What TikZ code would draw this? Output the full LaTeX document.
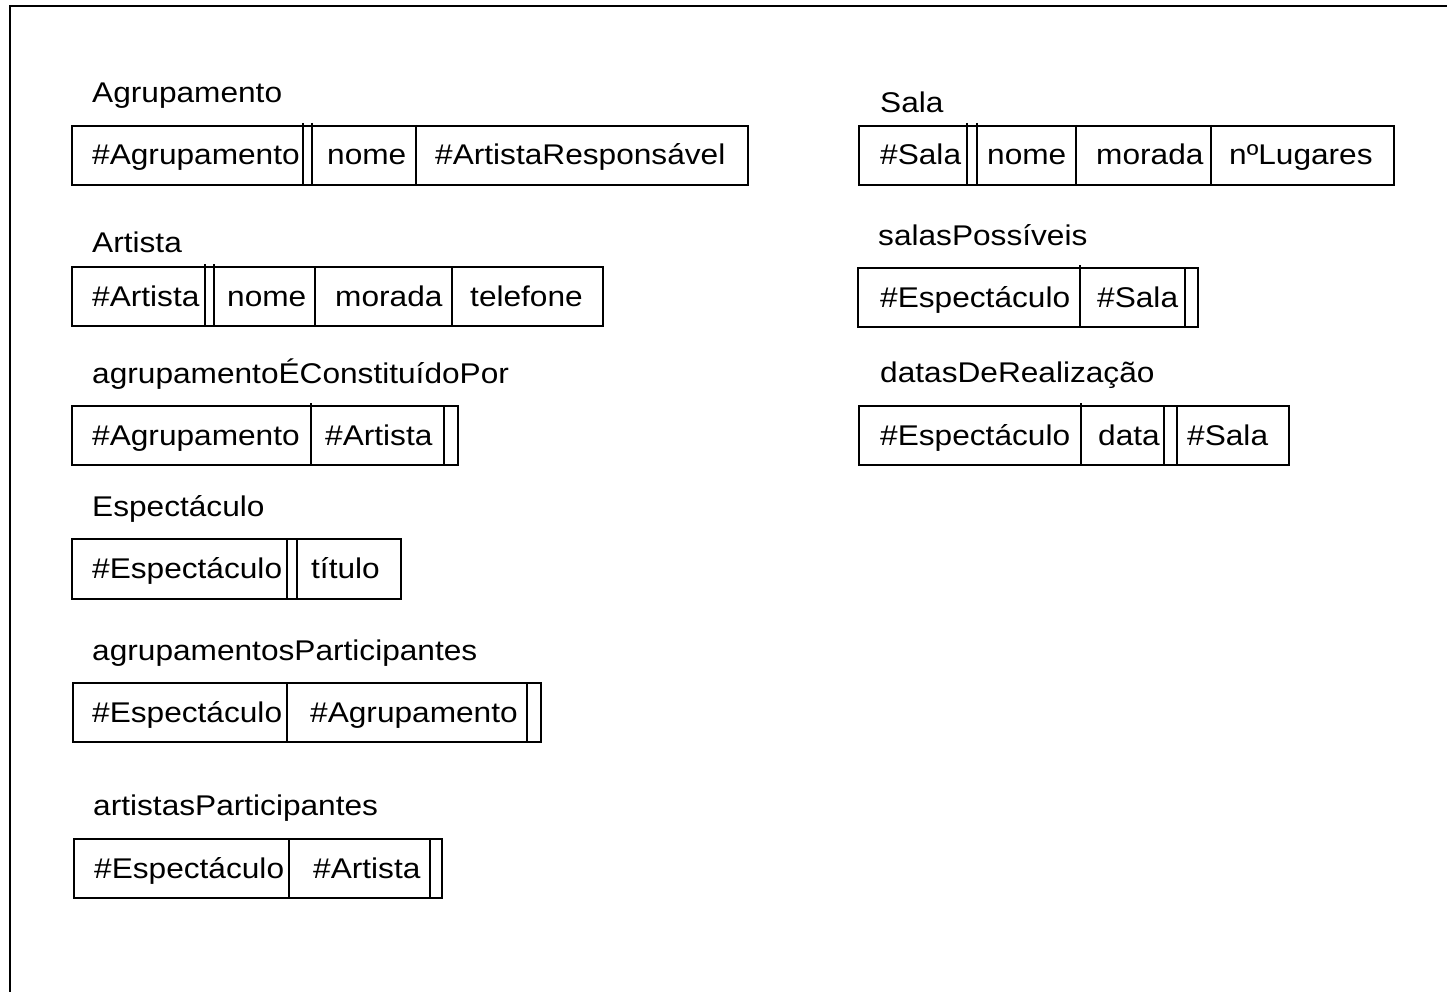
\documentclass[tikz,border=0pt]{standalone}
\usepackage{fontspec}
\setmainfont[FakeStretch=1.11]{Liberation Sans}
\newcommand\cellfont{\fontsize{28.5}{34}\selectfont}
\begin{document}
\begin{tikzpicture}[x=1pt,y=-1pt,
  tline/.style={line width=1.6pt},
  tbl/.style={draw, line width=1.6pt, rectangle, inner sep=0pt, anchor=north west},
  txt/.style={anchor=base west, inner sep=0pt, font=\cellfont},
]
\useasboundingbox (0,0) rectangle (1447,992);
\draw[line width=1.8pt] (10,992) -- (10,6) -- (1447,6);

% Agrupamento
\node[txt] (lAgr) at (92,103) {Agrupamento};
\node[tbl, minimum width=676pt, minimum height=59pt] (tAgr) at (71,125) {};
\draw[tline] (303,123) -- (303,186) (312,123) -- (312,186) (416,125) -- (416,186);
\node[txt] (agr1) at (92,165) {\#Agrupamento};
\node[txt] (agr2) at (327,165) {nome};
\node[txt] (agr3) at (435,165) {\#ArtistaResponsável};

% Artista
\node[txt] (lArt) at (92,253) {Artista};
\node[tbl, minimum width=531pt, minimum height=59pt] (tArt) at (71,266) {};
\draw[tline] (205,264) -- (205,327) (214,264) -- (214,327) (315,266) -- (315,327) (452,266) -- (452,327);
\node[txt] (art1) at (92,306) {\#Artista};
\node[txt] (art2) at (227,306) {nome};
\node[txt] (art3) at (335,306) {morada};
\node[txt] (art4) at (470,306) {telefone};

% agrupamentoEConstituidoPor
\node[txt] (lAec) at (92,383) {agrupamentoÉConstituídoPor};
\node[tbl, minimum width=386pt, minimum height=59pt] (tAec) at (71,405) {};
\draw[tline] (311,403) -- (311,464) (444,405) -- (444,466);
\node[txt] (aec1) at (92,445) {\#Agrupamento};
\node[txt] (aec2) at (325,445) {\#Artista};

% Espectaculo
\node[txt] (lEsp) at (92,516) {Espectáculo};
\node[tbl, minimum width=329pt, minimum height=60pt] (tEsp) at (71,538) {};
\draw[tline] (287,538) -- (287,600) (297,538) -- (297,600);
\node[txt] (esp1) at (92,578) {\#Espectáculo};
\node[txt] (esp2) at (311,578) {título};

% agrupamentosParticipantes
\node[txt] (lAgp) at (92,660) {agrupamentosParticipantes};
\node[tbl, minimum width=468pt, minimum height=59pt] (tAgp) at (72,682) {};
\draw[tline] (287,682) -- (287,743) (527,682) -- (527,743);
\node[txt] (agp1) at (92,722) {\#Espectáculo};
\node[txt] (agp2) at (310,722) {\#Agrupamento};

% artistasParticipantes
\node[txt] (lArp) at (93,815) {artistasParticipantes};
\node[tbl, minimum width=368pt, minimum height=59pt] (tArp) at (73,838) {};
\draw[tline] (289,838) -- (289,899) (430,838) -- (430,899);
\node[txt] (arp1) at (94,878) {\#Espectáculo};
\node[txt] (arp2) at (313,878) {\#Artista};

% Sala
\node[txt] (lSal) at (880,113) {Sala};
\node[tbl, minimum width=535pt, minimum height=59pt] (tSal) at (858,125) {};
\draw[tline] (967,123) -- (967,186) (977,123) -- (977,186) (1076,125) -- (1076,186) (1211,125) -- (1211,186);
\node[txt] (sal1) at (880,165) {\#Sala};
\node[txt] (sal2) at (987,165) {nome};
\node[txt] (sal3) at (1096,165) {morada};
\node[txt] (sal4) at (1229,165) {nºLugares};

% salasPossiveis
\node[txt] (lSpo) at (878,246) {salasPossíveis};
\node[tbl, minimum width=340pt, minimum height=59pt] (tSpo) at (857,267) {};
\draw[tline] (1080,265) -- (1080,326) (1185,267) -- (1185,328);
\node[txt] (spo1) at (880,307) {\#Espectáculo};
\node[txt] (spo2) at (1097,307) {\#Sala};

% datasDeRealizacao
\node[txt] (lDdr) at (880,382) {datasDeRealização};
\node[tbl, minimum width=430pt, minimum height=59pt] (tDdr) at (858,405) {};
\draw[tline] (1081,403) -- (1081,464) (1164,405) -- (1164,466) (1177,405) -- (1177,466);
\node[txt] (ddr1) at (880,445) {\#Espectáculo};
\node[txt] (ddr2) at (1098,445) {data};
\node[txt] (ddr3) at (1187,445) {\#Sala};
\end{tikzpicture}
\end{document}
